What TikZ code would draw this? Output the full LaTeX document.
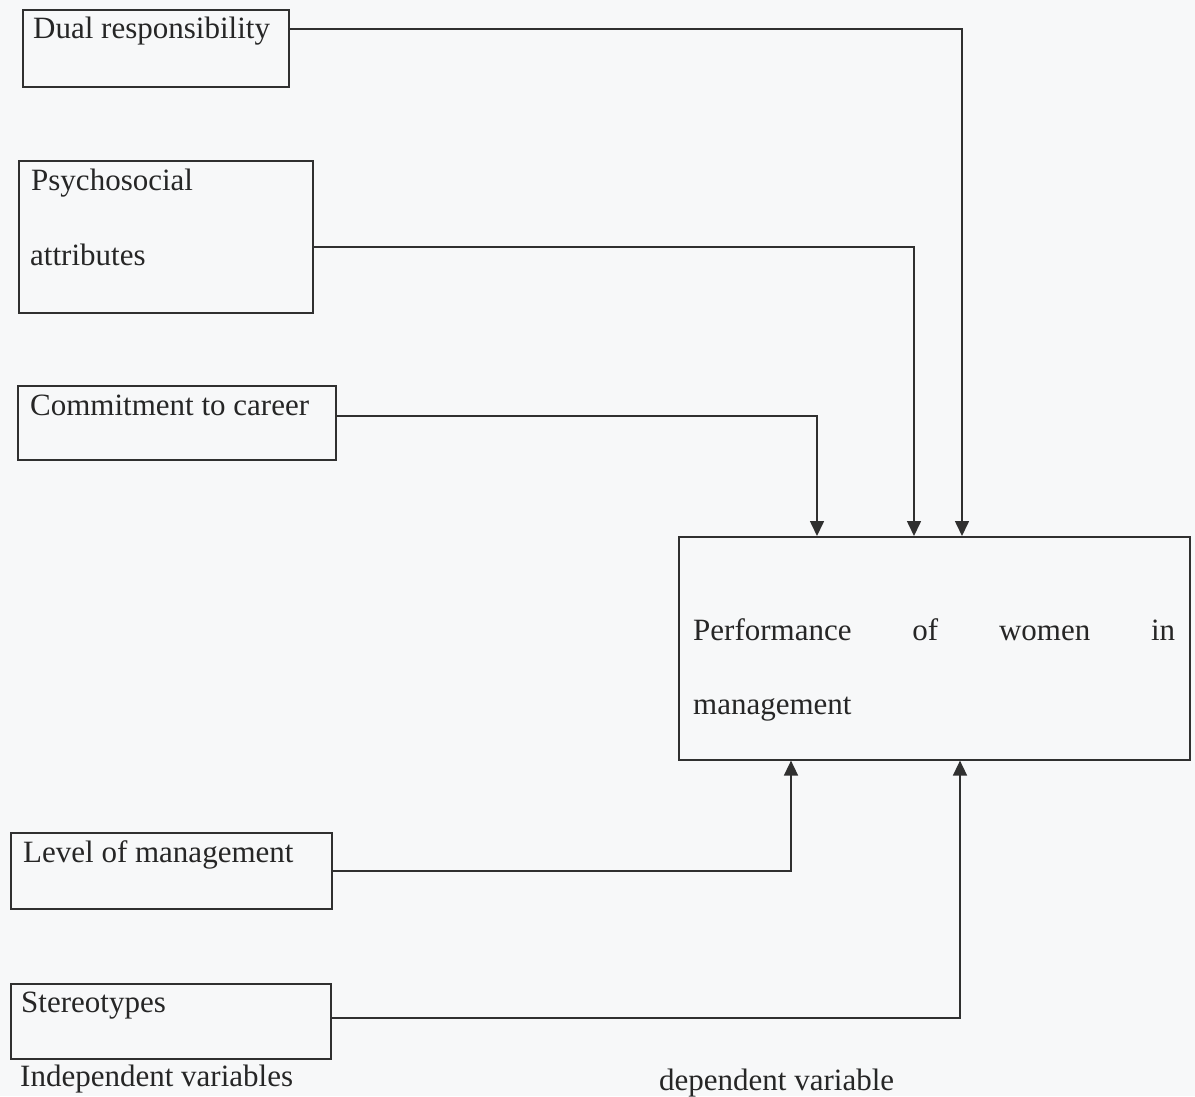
\documentclass[tikz,border=0pt]{standalone}
\usepackage{fontspec}
\setmainfont{Liberation Serif}
\usetikzlibrary{arrows.meta,calc}
\definecolor{ink}{HTML}{262626}
\definecolor{lineink}{HTML}{303030}
\definecolor{paper}{HTML}{F7F8F9}
\tikzset{
  box/.style={draw=lineink, line width=1.6pt, rectangle, inner sep=0pt, anchor=north west},
  txt/.style={inner sep=0pt, anchor=base west, text=ink, font=\fontsize{31}{36}\selectfont},
  arr/.style={draw=lineink, line width=1.6pt, -{Triangle[length=15pt,width=14pt]}}
}
\begin{document}
\begin{tikzpicture}[x=1pt,y=-1pt]
\fill[paper] (0,0) rectangle (1195,1096);
\useasboundingbox (0,0) rectangle (1195,1096);
% boxes
\node[box, minimum width=266pt, minimum height=77pt] (dual) at (22,9) {};
\node[box, minimum width=294pt, minimum height=152pt] (psych) at (18,160) {};
\node[box, minimum width=318pt, minimum height=74pt] (commit) at (17,385) {};
\node[box, minimum width=511pt, minimum height=223pt] (perf) at (678,536) {};
\node[box, minimum width=321pt, minimum height=76pt] (level) at (10,832) {};
\node[box, minimum width=320pt, minimum height=75pt] (stereo) at (10,983) {};
% texts
\node[txt] (tdual) at (33,38) {Dual responsibility};
\node[txt] (tpsych1) at (31,190) {Psychosocial};
\node[txt] (tpsych2) at (30,265) {attributes};
\node[txt] (tcommit) at (30,415) {Commitment to career};
\node[txt] (tperf1) at (693,640) {\makebox[482pt][s]{Performance of women in}};
\node[txt] (tperf2) at (693,714) {management};
\node[txt] (tlevel) at (23,862) {Level of management};
\node[txt] (tstereo) at (21,1012) {Stereotypes};
\node[txt] (tindep) at (20,1086) {Independent variables};
\node[txt] (tdep) at (659,1090) {dependent variable};
% connectors
\draw[arr] ([yshift=-20pt]dual.north east) -| ([xshift=284pt]perf.north west);
\draw[arr] ([yshift=-87pt]psych.north east) -| ([xshift=236pt]perf.north west);
\draw[arr] ([yshift=-31pt]commit.north east) -| ([xshift=139pt]perf.north west);
\draw[arr] ([yshift=-39pt]level.north east) -| ([xshift=113pt]perf.south west);
\draw[arr] ([yshift=-35pt]stereo.north east) -| ([xshift=282pt]perf.south west);
\end{tikzpicture}
\end{document}
